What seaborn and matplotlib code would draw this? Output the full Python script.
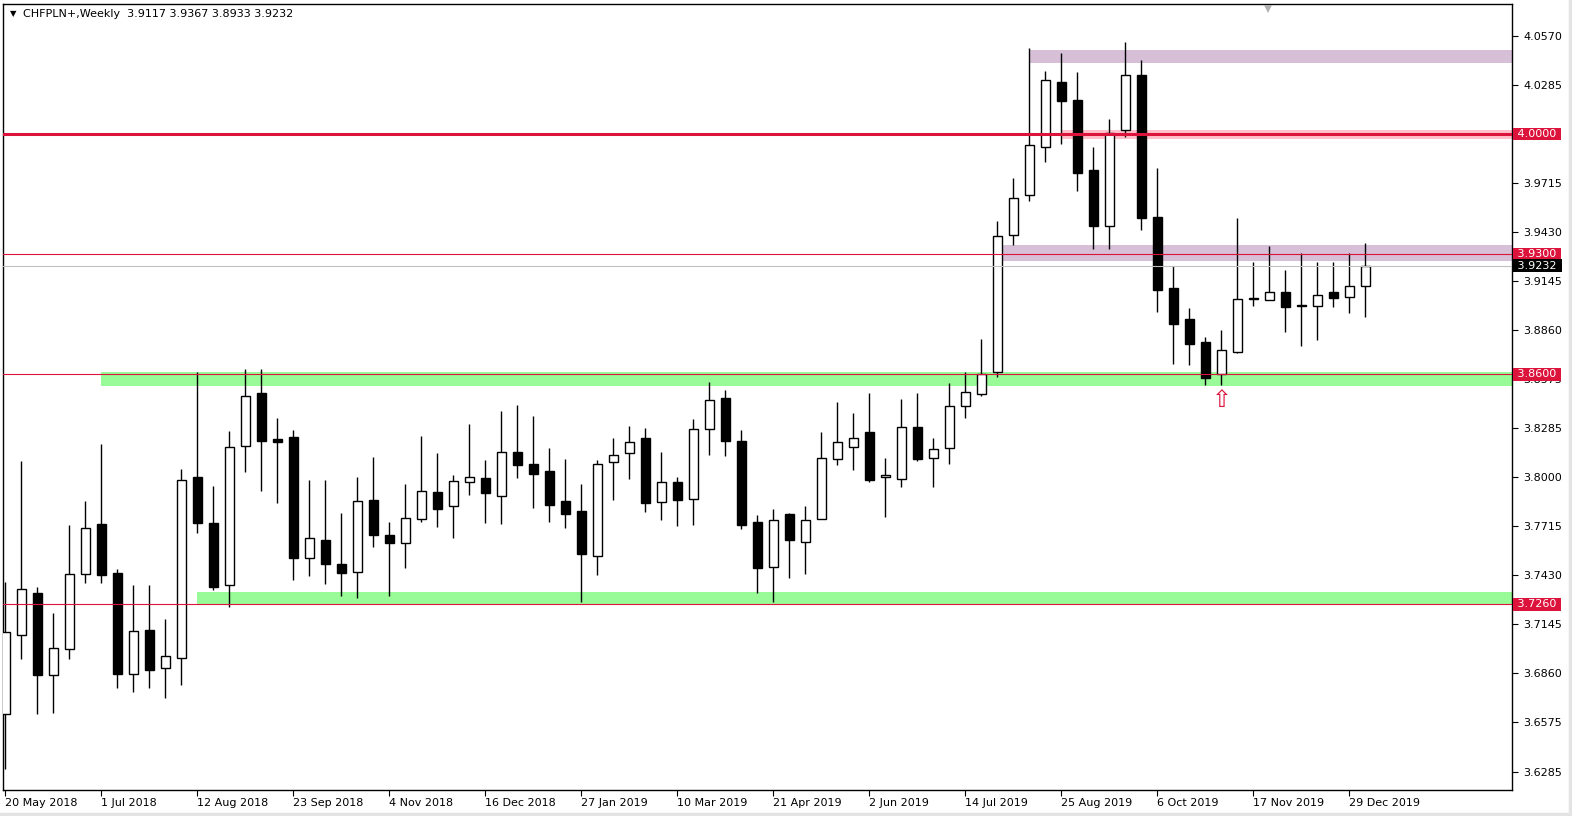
import numpy as np
import pandas as pd
import matplotlib
matplotlib.use("Agg")
import matplotlib.pyplot as plt
import seaborn as sns
from matplotlib.transforms import blended_transform_factory
from matplotlib.lines import Line2D

# ---------------- data ----------------
symbol_title = "CHFPLN+,Weekly  3.9117 3.9367 3.8933 3.9232"

opens = [3.6620, 3.7085, 3.7329, 3.6847, 3.6998, 3.7440, 3.7731, 3.7446, 3.6853, 3.7114,
         3.6893, 3.6951, 3.8004, 3.7737, 3.7376, 3.8185, 3.8493, 3.8225, 3.8237, 3.7533,
         3.7638, 3.7498, 3.7452, 3.7870, 3.7667, 3.7620, 3.7760, 3.7917, 3.7836, 3.7975,
         3.7998, 3.7894, 3.8150, 3.8080, 3.8039, 3.7865, 3.7806, 3.7545, 3.8092, 3.8144,
         3.8231, 3.7859, 3.7975, 3.7876, 3.8283, 3.8464, 3.8214, 3.7743, 3.7481, 3.7789,
         3.7626, 3.7760, 3.8109, 3.8179, 3.8266, 3.8004, 3.7993, 3.8295, 3.8115, 3.8173,
         3.8417, 3.8487, 3.8615, 3.9412, 3.9645, 3.9924, 4.0302, 4.0197, 3.9790, 3.9464,
         4.0023, 4.0343, 3.9517, 3.9104, 3.8923, 3.8790, 3.8603, 3.8731, 3.9038, 3.9034,
         3.9080, 3.9005, 3.8999, 3.9080, 3.9051, 3.9117]
highs = [3.7393, 3.8097, 3.7359, 3.7213, 3.7725, 3.7865, 3.8196, 3.7469, 3.7376, 3.7376,
         3.7178, 3.8051, 3.8615, 3.7952, 3.8272, 3.8633, 3.8633, 3.8347, 3.8278, 3.7987,
         3.7987, 3.7795, 3.8004, 3.8121, 3.7743, 3.7964, 3.8243, 3.8144, 3.8016, 3.8313,
         3.8103, 3.8388, 3.8423, 3.8359, 3.8173, 3.8109, 3.7964, 3.8103, 3.8231, 3.8301,
         3.8289, 3.8150, 3.8004, 3.8342, 3.8557, 3.8510, 3.8278, 3.7783, 3.7818, 3.7795,
         3.7836, 3.8266, 3.8441, 3.8377, 3.8493, 3.8115, 3.8458, 3.8493, 3.8231, 3.8551,
         3.8615, 3.8807, 3.9493, 3.9744, 4.0500, 4.0366, 4.0471, 4.0360, 3.9924, 4.0087,
         4.0535, 4.0430, 3.9802, 3.9232, 3.8987, 3.8819, 3.8859, 3.9511, 3.9255, 3.9348,
         3.9208, 3.9307, 3.9255, 3.9255, 3.9307, 3.9367]
lows = [3.6300, 3.6940, 3.6620, 3.6626, 3.6940, 3.7388, 3.7388, 3.6771, 3.6748, 3.6771,
        3.6713, 3.6789, 3.7679, 3.7347, 3.7248, 3.8033, 3.7923, 3.7853, 3.7405, 3.7423,
        3.7382, 3.7312, 3.7300, 3.7597, 3.7312, 3.7475, 3.7743, 3.7713, 3.7649, 3.7900,
        3.7737, 3.7731, 3.7998, 3.7824, 3.7743, 3.7708, 3.7277, 3.7434, 3.7870, 3.7993,
        3.7801, 3.7754, 3.7719, 3.7725, 3.8132, 3.8126, 3.7702, 3.7329, 3.7277, 3.7417,
        3.7440, 3.7755, 3.8074, 3.8045, 3.7975, 3.7772, 3.7946, 3.8097, 3.7946, 3.8080,
        3.8347, 3.8475, 3.8586, 3.9354, 3.9610, 3.9837, 3.9941, 3.9668, 3.9331, 3.9331,
        3.9982, 3.9441, 3.8964, 3.8662, 3.8656, 3.8539, 3.8539, 3.8725, 3.8999, 3.9030,
        3.8848, 3.8766, 3.8801, 3.8993, 3.8958, 3.8933]
closes = [3.7097, 3.7353, 3.6847, 3.7004, 3.7440, 3.7708, 3.7434, 3.6853, 3.7108, 3.6876,
          3.6963, 3.7987, 3.7737, 3.7364, 3.8179, 3.8475, 3.8214, 3.8208, 3.7533, 3.7649,
          3.7498, 3.7446, 3.7865, 3.7667, 3.7620, 3.7766, 3.7923, 3.7818, 3.7981, 3.8004,
          3.7911, 3.8150, 3.8074, 3.8022, 3.7841, 3.7789, 3.7556, 3.8080, 3.8132, 3.8208,
          3.7853, 3.7975, 3.7870, 3.8283, 3.8452, 3.8214, 3.7725, 3.7475, 3.7754, 3.7638,
          3.7754, 3.8115, 3.8208, 3.8231, 3.7987, 3.8016, 3.8295, 3.8109, 3.8167, 3.8417,
          3.8499, 3.8603, 3.9406, 3.9627, 3.9936, 4.0314, 4.0191, 3.9773, 3.9464, 4.0005,
          4.0343, 3.9511, 3.9092, 3.8894, 3.8778, 3.8580, 3.8743, 3.9040, 3.9042, 3.9080,
          3.8993, 3.8999, 3.9063, 3.9046, 3.9115, 3.9232]

x_tick_labels = ["20 May 2018", "1 Jul 2018", "12 Aug 2018", "23 Sep 2018", "4 Nov 2018",
                 "16 Dec 2018", "27 Jan 2019", "10 Mar 2019", "21 Apr 2019", "2 Jun 2019",
                 "14 Jul 2019", "25 Aug 2019", "6 Oct 2019", "17 Nov 2019", "29 Dec 2019"]
x_tick_step = 6  # weeks between date labels

y_tick_values = [4.0570, 4.0285, 4.0000, 3.9715, 3.9430, 3.9145, 3.8860, 3.8575,
                 3.8285, 3.8000, 3.7715, 3.7430, 3.7145, 3.6860, 3.6575, 3.6285]

# horizontal levels
level_prices = [4.0000, 3.9300, 3.8600, 3.7260]
level_widths = [2.2, 0.8, 0.8, 0.8]
last_price = 3.9232

# zones: start candle index, low, high, colour
zone_start = [6, 12, 64, 66, 62.3]
zone_low = [3.8533, 3.7265, 4.0412, 3.9971, 3.9261]
zone_high = [3.8615, 3.7335, 4.0488, 4.0023, 3.9354]
zone_color = ["#98FB98", "#98FB98", "#D8BFD8", "#FFC0CB", "#D8BFD8"]

arrow_index = 76
arrow_price = 3.8452

# ---------------- styling ----------------
sns.set_theme(style="white")
plt.rcParams["font.family"] = ["DejaVu Sans"]

W, H = 1572, 816
fig = plt.figure(figsize=(W / 100, H / 100), dpi=100)
fig.patch.set_facecolor("white")
L_px, R_px, T_px, B_px = 3, 1512, 4, 790
ax = fig.add_axes([L_px / W, 1 - B_px / H, (R_px - L_px) / W, (B_px - T_px) / H])
ax.set_facecolor("white")

n = len(opens)
xs = np.arange(n)
df = pd.DataFrame({"x": xs, "open": opens, "high": highs, "low": lows, "close": closes})
df["up"] = df["close"] >= df["open"]

xmax = 94.16
for s, lo, hi, c in zip(zone_start, zone_low, zone_high, zone_color):
    ax.fill_between([s, xmax + 5], lo, hi, color=c, lw=0, zorder=1)

ax.vlines(df["x"], df["low"], df["high"], color="black", lw=1.0, zorder=3)
bw = 0.6
for up, fc in [(True, "white"), (False, "black")]:
    d = df[df["up"] == up]
    hgt = (d["close"] - d["open"]).abs().clip(lower=0.00025)
    bot = np.minimum(d["open"], d["close"])
    ax.bar(d["x"], hgt, bottom=bot, width=bw, facecolor=fc, edgecolor="black",
           linewidth=1.0, zorder=4)

ax.axhline(last_price, color="#C0C0C0", lw=0.8, zorder=5)
for p, w in zip(level_prices, level_widths):
    ax.axhline(p, color="#DC143C", lw=w, zorder=6)

ax.set_xlim(-0.156, xmax)
ax.set_ylim(3.6180, 4.0756)

# axes ticks (the 4.0000 tick text is carried by the red price box)
ax.yaxis.tick_right()
ax.set_yticks(y_tick_values)
ax.set_yticklabels(["" if v in level_prices else f"{v:.4f}" for v in y_tick_values],
                   fontsize=8, color="black")
ax.tick_params(axis="y", which="major", right=True, length=4, width=0.8, pad=4,
               direction="out", colors="black")
ax.set_xticks(np.arange(len(x_tick_labels)) * x_tick_step)
ax.set_xticklabels(x_tick_labels, fontsize=8, ha="left", color="black")
ax.tick_params(axis="x", which="major", bottom=True, length=4, width=0.8, pad=2,
               direction="out", colors="black")
for sp in ax.spines.values():
    sp.set_color("black")
    sp.set_linewidth(1.0)

# right-side price boxes
tr = blended_transform_factory(ax.transAxes, ax.transData)
for p in level_prices:
    ax.text(1.0015, p, f" {p:.4f} ", transform=tr, ha="left", va="center", fontsize=8,
            color="white", clip_on=False, zorder=20,
            bbox=dict(boxstyle="square,pad=0.12", fc="#DC143C", ec="none"))
ax.text(1.0015, last_price, f" {last_price:.4f} ", transform=tr, ha="left", va="center",
        fontsize=8, color="white", clip_on=False, zorder=21,
        bbox=dict(boxstyle="square,pad=0.12", fc="black", ec="none"))

# hollow up arrow under the swing low
ax.text(arrow_index, arrow_price, "\u21e7", ha="center", va="center", fontsize=17,
        color="#DC143C", zorder=8)

# title
fig.text(10 / W, 1 - 14 / H, "\u25bc", fontsize=6, va="center", ha="left", color="black")
fig.text(23 / W, 1 - 14 / H, symbol_title, fontsize=8, va="center", ha="left", color="black")

# small grey shift marker at top
ax.plot([78.9], [0.9935], marker="v", markersize=6, color="#B0B0B0", markeredgewidth=0,
        transform=blended_transform_factory(ax.transData, ax.transAxes),
        clip_on=False, zorder=9)

# light window border (right and bottom)
fig.add_artist(Line2D([1 - 2.5 / W, 1 - 2.5 / W], [0, 1], transform=fig.transFigure,
                      color="#E3E3E3", lw=2.5))
fig.add_artist(Line2D([0, 1], [2.5 / H, 2.5 / H], transform=fig.transFigure,
                      color="#E3E3E3", lw=2.5))

fig.savefig("out.png", dpi=100, facecolor="white")
